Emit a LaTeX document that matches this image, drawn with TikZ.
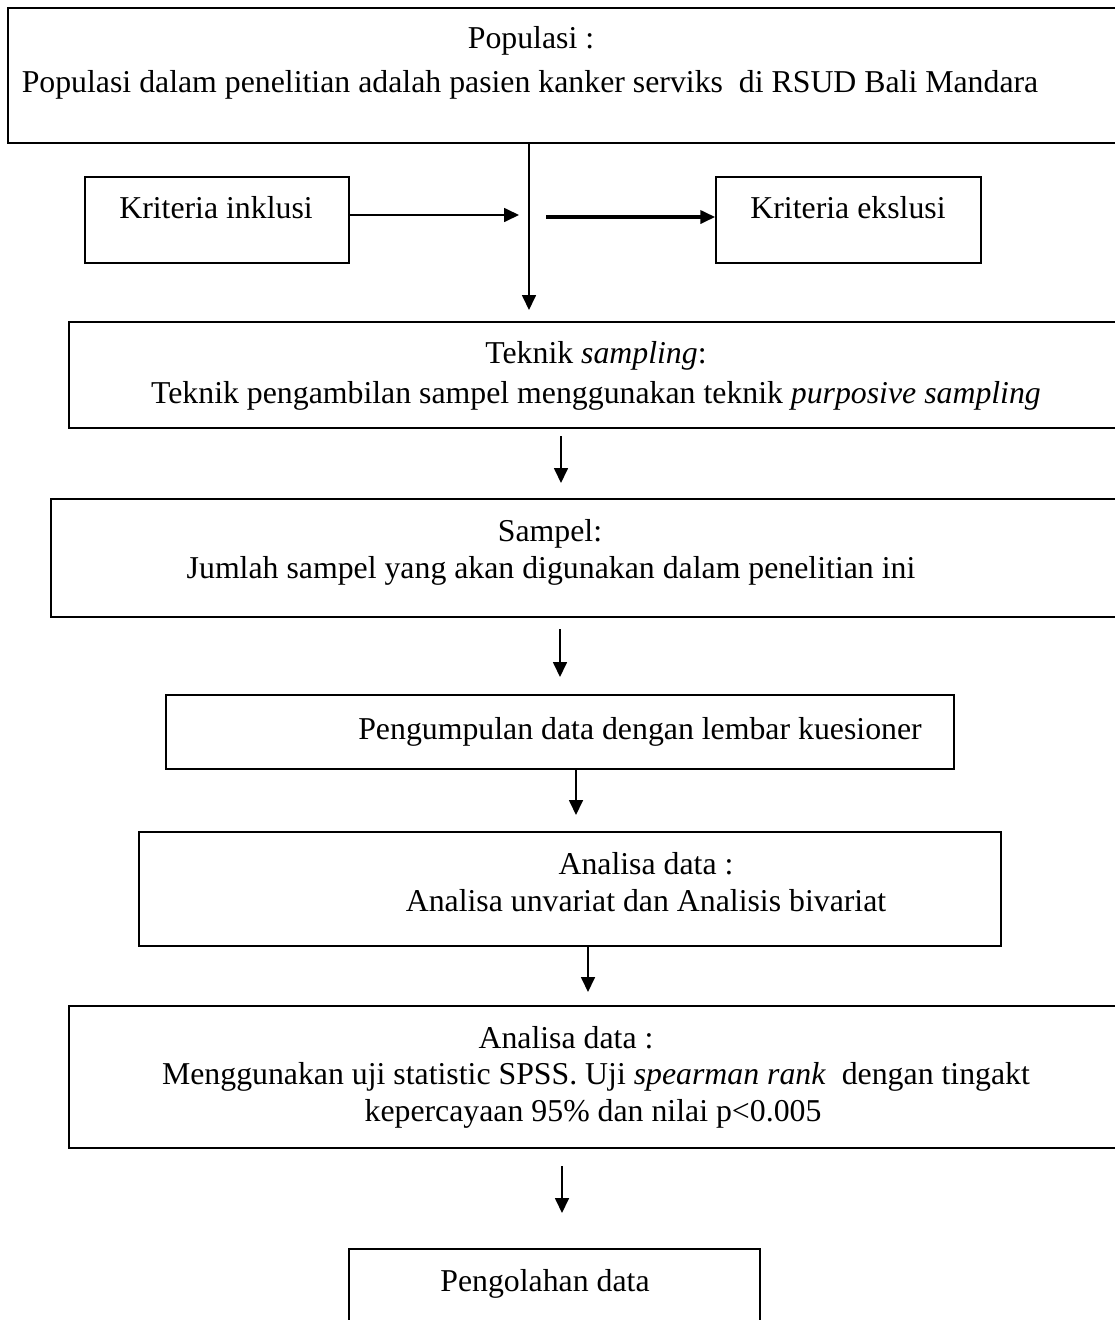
\documentclass[tikz,border=0pt]{standalone}
\usepackage{fontspec}
\setmainfont{Liberation Serif}
\usetikzlibrary{arrows.meta}
\tikzset{
  box/.style={draw=black, line width=1.8pt, inner sep=0pt, anchor=center},
  smallbox/.style={draw=black, line width=1.4pt, inner sep=0pt, anchor=center},
  txt/.style={inner sep=0pt, anchor=center, text height=22pt, text depth=7pt,
    yshift=-4pt, font=\fontsize{31.8}{37}\selectfont},
  arr/.style={line width=1.7pt, -{Triangle[length=15pt,width=14pt]}},
  thickarr/.style={line width=3.6pt, -{Triangle[length=15pt,width=13pt]}}
}
\begin{document}
\begin{tikzpicture}[x=1pt,y=-1pt]
\useasboundingbox[fill=white] (0,0) rectangle (1114,1320);

% boxes
\node[box, minimum width=1122pt, minimum height=135pt] (pop) at (569,75.5) {};
\node[smallbox, minimum width=264pt, minimum height=86pt] (ink) at (217,220) {};
\node[smallbox, minimum width=265pt, minimum height=86pt] (eks) at (848.5,220) {};
\node[box, minimum width=1061pt, minimum height=106pt] (tek) at (599.5,375) {};
\node[box, minimum width=1079pt, minimum height=118pt] (sam) at (590.5,558) {};
\node[box, minimum width=788pt, minimum height=74pt] (kum) at (560,732) {};
\node[box, minimum width=862pt, minimum height=114pt] (an1) at (570,889) {};
\node[box, minimum width=1061pt, minimum height=142pt] (an2) at (599.5,1077) {};
\node[box, minimum width=411pt, minimum height=91pt] (olah) at (554.5,1294.5) {};

% texts
\node[txt] (popA) at (531,37) {Populasi :};
\node[txt] (popB) at (530,81) {Populasi dalam penelitian adalah pasien kanker serviks\ \ di RSUD Bali Mandara};
\node[txt] (inkT) at (216,207) {Kriteria inklusi};
\node[txt] (eksT) at (848,207) {Kriteria ekslusi};
\node[txt] (tekA) at (596,352) {Teknik \textit{sampling}:};
\node[txt] (tekB) at (596,392) {Teknik pengambilan sampel menggunakan teknik \textit{purposive sampling}};
\node[txt] (samA) at (550,530) {Sampel:};
\node[txt] (samB) at (551,567) {Jumlah sampel yang akan digunakan dalam penelitian ini};
\node[txt] (kumT) at (640,728) {Pengumpulan data dengan lembar kuesioner};
\node[txt] (an1A) at (646,863) {Analisa data :};
\node[txt] (an1B) at (646,900) {Analisa unvariat dan Analisis bivariat};
\node[txt] (an2A) at (566,1037) {Analisa data :};
\node[txt] (an2B) at (596,1073) {Menggunakan uji statistic SPSS. Uji \textit{spearman rank}\ \ dengan tingakt};
\node[txt] (an2C) at (593,1110) {kepercayaan 95\% dan nilai p<0.005};
\node[txt] (olahT) at (545,1280) {Pengolahan data};

% connector coordinates
\coordinate (j) at (529,215);
\coordinate (jend) at (529,310);
\coordinate (inkEnd) at (519,215);
\coordinate (eksStart) at (546,217);
\coordinate (c1s) at (561,436);
\coordinate (c1e) at (561,483);
\coordinate (c2s) at (560,629);
\coordinate (c2e) at (560,677);
\coordinate (c3) at (576,0);
\coordinate (c3e) at (576,815);
\coordinate (c4) at (588,0);
\coordinate (c4e) at (588,992);
\coordinate (c5s) at (562,1166);
\coordinate (c5e) at (562,1213);

% connectors
\draw[arr] (pop.south -| j) -- (jend);
\draw[arr] (ink.east |- j) -- (inkEnd);
\draw[thickarr] (eksStart) -- (eks.west |- eksStart);
\draw[arr] (c1s) -- (c1e);
\draw[arr] (c2s) -- (c2e);
\draw[arr] (kum.south -| c3) -- (c3e);
\draw[arr] (an1.south -| c4) -- (c4e);
\draw[arr] (c5s) -- (c5e);
\end{tikzpicture}
\end{document}
